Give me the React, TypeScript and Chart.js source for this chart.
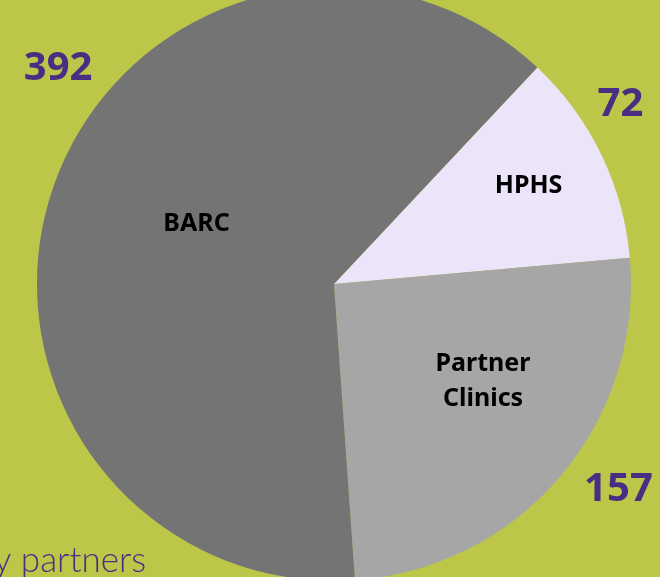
import React, { useEffect, useRef } from "react";
import { Chart, registerables } from "chart.js";

Chart.register(...registerables);

// ---- data ----
const categories = ["HPHS", "Partner Clinics", "BARC"];
const sliceLabelLines = [["HPHS"], ["Partner", "Clinics"], ["BARC"]];
const values = [72, 157, 392];
const sliceColors = ["#ece4f8", "#a6a6a6", "#747474"];
const captionText = "by partners";

// ---- layout / style (not data) ----
const START_ROTATION = 43.2;
const BG = "#bcc74a";
const PURPLE = "#4b2d84";
const CANVAS_W = 660;
const CANVAS_H = 620;
const CANVAS_TOP = -20;
// label placement relative to slice: angle offset (deg) and radius factor
const innerPlace = [
  { da: -0.9, rf: 0.734 },
  { da: -7.2, rf: 0.6 },
  { da: 4, rf: 0.505 },
];
const outerPlace = [
  { da: -6.3, rf: 1.14 },
  { da: -4.7, rf: 1.18 },
  { da: 18.5, rf: 1.18 },
];

const labelPlugin = {
  id: "sliceLabels",
  afterDatasetsDraw(chart: any) {
    const ctx = chart.ctx as CanvasRenderingContext2D;
    const meta = chart.getDatasetMeta(0);
    ctx.save();
    meta.data.forEach((arc: any, i: number) => {
      const p = arc.getProps(["x", "y", "startAngle", "endAngle", "outerRadius"], true);
      const mid = (p.startAngle + p.endAngle) / 2;
      // inside category label
      const ia = mid + (innerPlace[i].da * Math.PI) / 180;
      const ir = p.outerRadius * innerPlace[i].rf;
      const ix = p.x + Math.cos(ia) * ir;
      const iy = p.y + Math.sin(ia) * ir;
      ctx.fillStyle = "#000000";
      ctx.font = "bold 25px 'Noto Sans', 'DejaVu Sans', sans-serif";
      ctx.textAlign = "center";
      ctx.textBaseline = "middle";
      const lines = sliceLabelLines[i];
      const lh = 35;
      lines.forEach((ln, k) => {
        ctx.fillText(ln, ix, iy + (k - (lines.length - 1) / 2) * lh);
      });
      // outside value
      const oa = mid + (outerPlace[i].da * Math.PI) / 180;
      const or = p.outerRadius * outerPlace[i].rf;
      const ox = p.x + Math.cos(oa) * or;
      const oy = p.y + Math.sin(oa) * or;
      ctx.fillStyle = PURPLE;
      ctx.font = "bold 40px 'Noto Sans', 'DejaVu Sans', sans-serif";
      ctx.fillText(String(values[i]), ox, oy + 1);
    });
    // caption (partly cut at the left edge)
    ctx.fillStyle = PURPLE;
    ctx.font = "300 35px Lato, 'Noto Sans', sans-serif";
    ctx.textAlign = "right";
    ctx.textBaseline = "alphabetic";
    ctx.fillText(captionText, 146, 572 - CANVAS_TOP);
    ctx.restore();
  },
};

export default function App() {
  const ref = useRef<HTMLCanvasElement | null>(null);
  useEffect(() => {
    if (!ref.current) return;
    const chart = new Chart(ref.current, {
      type: "pie",
      data: {
        labels: categories,
        datasets: [
          {
            data: values,
            backgroundColor: sliceColors,
            borderWidth: 0,
            hoverBorderWidth: 0,
            hoverOffset: 0,
          },
        ],
      },
      options: {
        responsive: false,
        animation: false,
        devicePixelRatio: 1,
        rotation: START_ROTATION,
        layout: { padding: { left: 37, right: 29, top: 7, bottom: 19 } },
        plugins: {
          legend: { display: false },
          tooltip: { enabled: false },
        },
        events: [],
      },
      plugins: [labelPlugin],
    });
    return () => chart.destroy();
  }, []);
  return (
    <div
      style={{
        position: "fixed",
        left: 0,
        top: 0,
        width: 660,
        height: 577,
        overflow: "hidden",
        background: BG,
      }}
    >
      <canvas
        ref={ref}
        width={CANVAS_W}
        height={CANVAS_H}
        style={{ position: "absolute", left: 0, top: CANVAS_TOP, width: CANVAS_W, height: CANVAS_H }}
      />
    </div>
  );
}
